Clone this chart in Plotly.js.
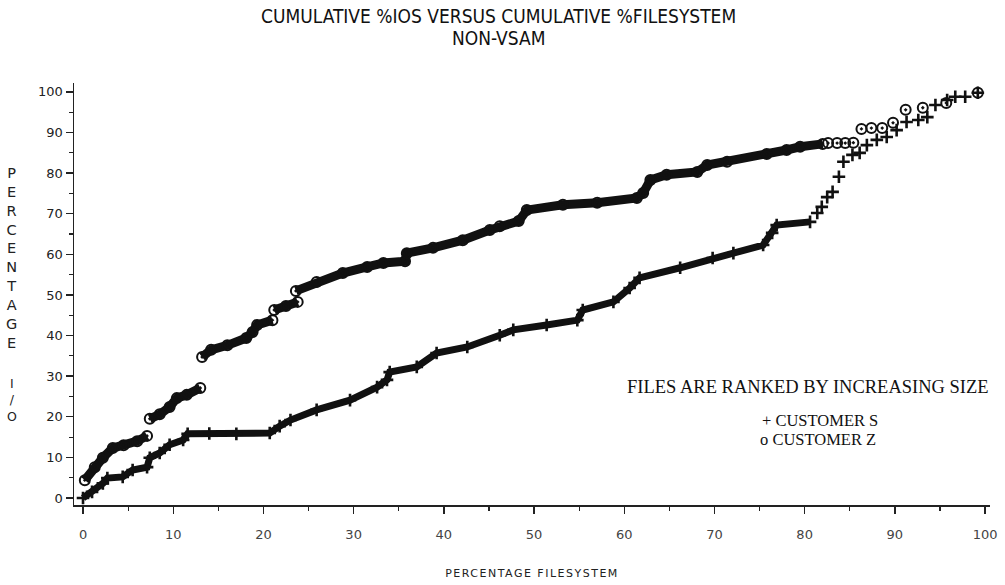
<!DOCTYPE html>
<html>
<head>
<meta charset="utf-8">
<script src="https://cdn.plot.ly/plotly-3.0.1.min.js"></script>
<style>
  html, body { margin: 0; padding: 0; background: #fff; }
  #chart { width: 1005px; height: 585px; }
  .xtitle { letter-spacing: 1.5px; }
</style>
</head>
<body>
<div id="chart"></div>
<script>
// Cumulative % of I/O against cumulative % of filesystem, files ranked by size.
// Dense runs of files are drawn as a band; null marks a jump caused by one large file.

// Customer Z (open circles) - dense part
const zBandX = [0.2, 1.3, 2.2, 3.3, 4.5, 6.0, 7.1, null,
  7.4, 8.5, 9.6, 10.4, 11.5, 13.0, null,
  13.2, 14.2, 16.0, 18.1, 18.8, 19.3, 21.0, null,
  21.2, 22.5, 23.8, null,
  23.6, 25.9, 28.8, 31.5, 33.3, 35.7, 35.9, 38.8, 42.1, 45.1, 46.2, 48.3, 49.2,
  53.2, 57.0, 61.4, 62.1, 62.9, 64.7, 68.1, 69.2, 71.4, 75.8, 78.0, 79.5, 82.0];
const zBandY = [4.4, 7.6, 9.9, 12.3, 13.0, 14.0, 15.3, null,
  19.5, 20.6, 22.4, 24.6, 25.4, 27.1, null,
  34.7, 36.5, 37.6, 39.4, 40.9, 42.6, 43.8, null,
  46.3, 47.3, 48.3, null,
  51.0, 53.2, 55.4, 56.9, 57.9, 58.3, 60.3, 61.6, 63.5, 66.0, 66.9, 68.2, 70.9,
  72.2, 72.7, 73.9, 75.1, 78.3, 79.6, 80.3, 82.0, 82.8, 84.7, 85.7, 86.5, 87.2];
// Customer Z - the largest files, plotted one by one
const zSparseX = [82.6, 83.6, 84.5, 85.4, 86.3, 87.4, 88.6, 89.8, 91.2, 93.1, 95.7, 99.2];
const zSparseY = [87.4, 87.4, 87.4, 87.5, 90.9, 91.1, 91.1, 92.4, 95.6, 96.1, 97.3, 99.8];

// Customer S (plus signs) - dense part
const sBandX = [0.0, 1.0, 2.2, 2.7, 4.4, 5.5, 7.1, 7.4, 8.5, 9.6, 11.1, 11.6, 14.0, 17.0,
  20.7, 21.8, 23.0, 25.9, 29.6, 32.6, 33.7, 34.0, 37.0, 39.2, 42.6, 46.2, 47.7, 51.4,
  54.8, 55.4, 58.8, 60.6, 61.7, 66.2, 69.8, 72.1, 75.4, 76.4, 76.9, 80.6];
const sBandY = [0.0, 1.5, 3.6, 4.9, 5.2, 6.9, 7.6, 9.9, 11.1, 13.1, 14.3, 15.8, 15.9, 15.8,
  16.0, 17.7, 19.2, 21.7, 24.1, 27.3, 29.1, 31.0, 32.3, 35.7, 37.2, 40.1, 41.4, 42.6,
  43.8, 46.3, 48.3, 51.7, 54.2, 56.7, 59.1, 60.3, 62.3, 65.3, 67.2, 68.0];
// Customer S - the largest files
const sSparseX = [81.4, 81.9, 82.5, 83.1, 83.8, 84.3, 85.3, 86.1, 86.9, 88.0, 89.1, 90.2,
  91.3, 92.6, 93.6, 94.5, 95.8, 96.7, 97.8, 99.2];
const sSparseY = [70.2, 71.7, 74.1, 75.4, 79.1, 82.8, 84.5, 85.0, 86.9, 88.2, 88.9, 90.6,
  92.6, 93.1, 93.8, 96.8, 98.0, 98.8, 98.8, 99.8];

const xTicks = [0, 10, 20, 30, 40, 50, 60, 70, 80, 90, 100];
const yTicks = [0, 10, 20, 30, 40, 50, 60, 70, 80, 90, 100];

const INK = '#111';
const circleMarker = { symbol: 'circle-open-dot', size: 10, color: INK, line: { width: 2, color: INK } };
const plusMarker = { symbol: 'cross-thin-open', size: 9, color: INK, line: { width: 2.6, color: INK } };

const traces = [
  { x: sBandX, y: sBandY, type: 'scatter', mode: 'lines+markers',
    line: { color: INK, width: 7 }, marker: plusMarker, hoverinfo: 'skip' },
  { x: sSparseX, y: sSparseY, type: 'scatter', mode: 'markers',
    marker: plusMarker, hoverinfo: 'skip' },
  { x: zBandX, y: zBandY, type: 'scatter', mode: 'lines+markers',
    line: { color: INK, width: 9 }, marker: circleMarker, hoverinfo: 'skip' },
  { x: zSparseX, y: zSparseY, type: 'scatter', mode: 'markers',
    marker: circleMarker, hoverinfo: 'skip' }
];

const axisCommon = {
  showgrid: false, zeroline: false, showline: true,
  linecolor: '#222', linewidth: 1.5,
  ticks: 'outside', ticklen: 7, tickwidth: 1.4, tickcolor: '#222',
  minor: { dtick: 5, ticks: 'outside', ticklen: 4, tickwidth: 1.2, tickcolor: '#222' }
};

const TITLE_FONT = { family: 'Liberation Sans Narrow, DejaVu Sans Condensed, sans-serif', size: 19, color: '#111' };
const NOTE_FONT = { family: 'Liberation Serif, serif', size: 18.5, color: '#111' };
const KEY_FONT = { family: 'Liberation Serif, serif', size: 16.5, color: '#111' };

const layout = {
  width: 1005, height: 585,
  paper_bgcolor: '#fff', plot_bgcolor: '#fff',
  showlegend: false,
  margin: { l: 74, r: 15, t: 83, b: 80 },
  xaxis: Object.assign({}, axisCommon, {
    range: [-1.0, 100.55], tickvals: xTicks, ticktext: xTicks.map(String),
    ticklabelstandoff: 10,
    tickfont: { family: 'DejaVu Sans, sans-serif', size: 13, color: '#444' },
    title: { text: 'PERCENTAGE FILESYSTEM', standoff: 28,
      font: { family: 'DejaVu Sans, sans-serif', size: 11, color: '#222' } }
  }),
  yaxis: Object.assign({}, axisCommon, {
    range: [-1.72, 102.2], tickvals: yTicks, ticktext: yTicks.map(String),
    tickfont: { family: 'DejaVu Sans, sans-serif', size: 13, color: '#222' }
  }),
  annotations: [
    { xref: 'paper', yref: 'paper', x: 0.463, y: 1.159, xanchor: 'center', yanchor: 'middle',
      text: 'CUMULATIVE %IOS VERSUS CUMULATIVE %FILESYSTEM', showarrow: false, font: TITLE_FONT },
    { xref: 'paper', yref: 'paper', x: 0.463, y: 1.106, xanchor: 'center', yanchor: 'middle',
      text: 'NON-VSAM', showarrow: false, font: TITLE_FONT },
    { xref: 'paper', yref: 'paper', x: -0.068, y: 0.811, xanchor: 'center', yanchor: 'top',
      text: 'P<br>E<br>R<br>C<br>E<br>N<br>T<br>A<br>G<br>E', showarrow: false, align: 'center',
      font: { family: 'DejaVu Sans, sans-serif', size: 14.5, color: '#222' } },
    { xref: 'paper', yref: 'paper', x: -0.068, y: 0.31, xanchor: 'center', yanchor: 'top',
      text: 'I<br>/<br>O', showarrow: false, align: 'center',
      font: { family: 'DejaVu Sans, sans-serif', size: 12.5, color: '#222' } },
    { xref: 'x', yref: 'y', x: 80.4, y: 27.3, xanchor: 'center', yanchor: 'middle',
      text: 'FILES ARE RANKED BY INCREASING SIZE', showarrow: false, font: NOTE_FONT },
    { xref: 'x', yref: 'y', x: 81.7, y: 19.0, xanchor: 'center', yanchor: 'middle',
      text: '+ CUSTOMER S', showarrow: false, font: KEY_FONT },
    { xref: 'x', yref: 'y', x: 81.5, y: 14.3, xanchor: 'center', yanchor: 'middle',
      text: 'o CUSTOMER Z', showarrow: false, font: KEY_FONT }
  ]
};

Plotly.newPlot('chart', traces, layout, { displayModeBar: false, staticPlot: true });
</script>
</body>
</html>
